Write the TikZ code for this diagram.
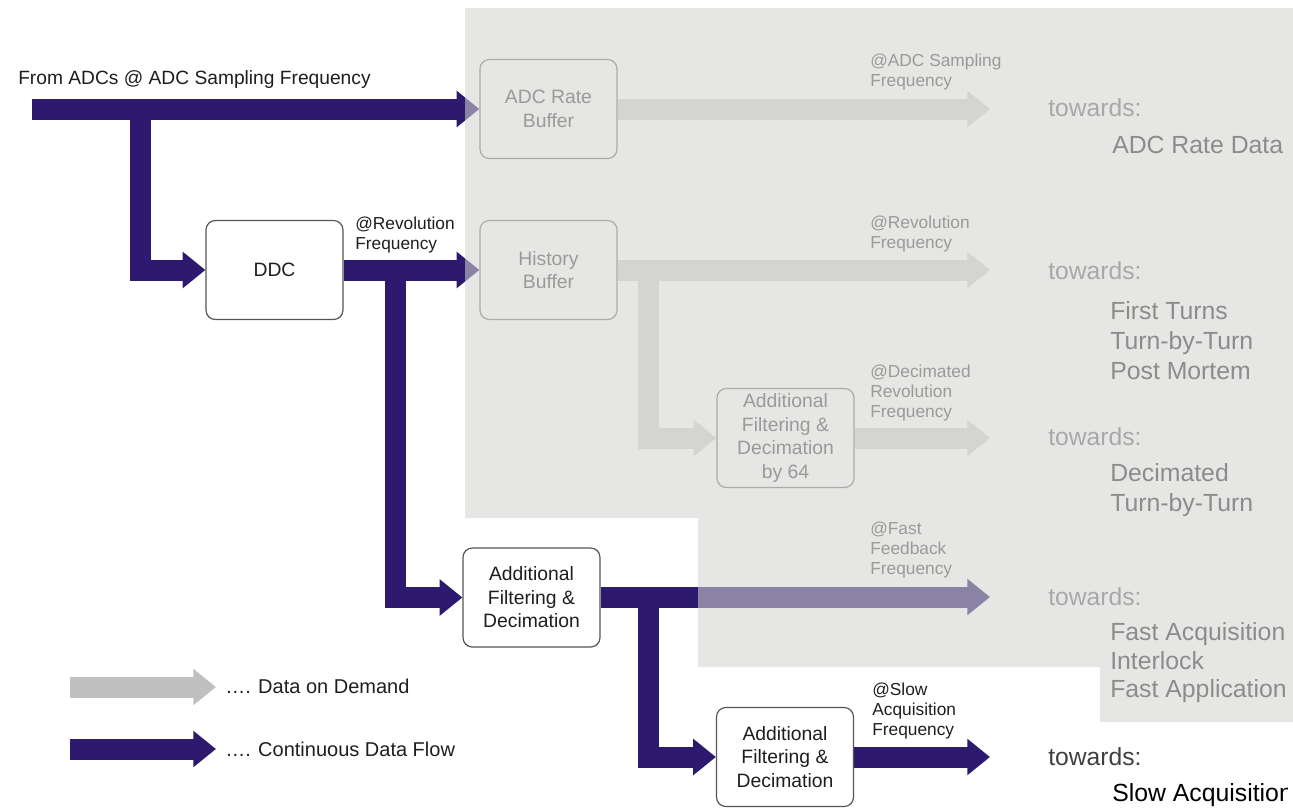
\documentclass[tikz,border=0pt]{standalone}
\usepackage{fontspec}
\setmainfont{Liberation Sans}
\usetikzlibrary{arrows.meta}
\definecolor{purp}{HTML}{2D1A6E}
\definecolor{ovl}{HTML}{D3D3CF}
\definecolor{garrow}{HTML}{D4D4D1}
\definecolor{legray}{HTML}{C0C0C0}
\definecolor{gborder}{HTML}{ABABAB}
\definecolor{gtext}{HTML}{9A9A9A}
\definecolor{gitem}{HTML}{8C8C8C}
\definecolor{gtow}{HTML}{A8A8A8}
\definecolor{dtext}{HTML}{1E1E1E}
\definecolor{dborder}{HTML}{555555}
\pgfdeclarelayer{bg}
\pgfdeclarelayer{ovlayer}
\pgfsetlayers{bg,ovlayer,main}
\begin{document}
\begin{tikzpicture}[x=0.75pt,y=-0.75pt,
  flow/.style={draw=purp, line width=15.75pt, line join=miter, -{Triangle[width=26.25pt,length=17pt]}},
  flowg/.style={flow, draw=garrow},
  flowl/.style={flow, draw=legray},
  box/.style={draw=dborder, line width=0.9pt, rounded corners=7pt, fill=white, minimum width=102.75pt, minimum height=74.25pt, align=center, text=dtext, font=\fontsize{14.5}{17.6}\selectfont, inner sep=0pt},
  gbox/.style={box, draw=gborder, fill=none, text=gtext},
  lab/.style={anchor=west, align=left, inner sep=0pt, font=\fontsize{13}{15}\selectfont},
  glab/.style={lab, text=gtext},
  dlab/.style={lab, text=dtext},
  tow/.style={anchor=west, inner sep=0pt, font=\fontsize{18.5}{22}\selectfont},
  item/.style={anchor=west, align=left, inner sep=0pt, font=\fontsize{18.6}{22.5}\selectfont},
  maintext/.style={anchor=west, inner sep=0pt, text=dtext, font=\fontsize{14.4}{17}\selectfont}
]
\useasboundingbox (0,0) rectangle (1293,808);
\clip (0,0) rectangle (1293,808);

% gray overlay
\begin{pgfonlayer}{ovlayer}
\fill[ovl, fill opacity=0.57] (465,8) -- (1300,8) -- (1300,722) -- (1100,722) -- (1100,667) -- (698,667) -- (698,518) -- (465,518) -- cycle;
\end{pgfonlayer}

% title
\node[maintext] (title) at (18,80) {From ADCs @ ADC Sampling Frequency};

% coordinates
\coordinate (in) at (32,109);
\coordinate (j1) at (140,109);
\coordinate (j2) at (395,270);
\coordinate (j3) at (648,597);
\coordinate (j4) at (648,270);
\coordinate (e1) at (990,109);
\coordinate (e2) at (990,270);
\coordinate (e3) at (990,438);
\coordinate (e4) at (990,597);
\coordinate (e5) at (990,757);

% boxes
\node[box] (ddc) at (274.5,270) {DDC};
\node[box] (afd) at (531.5,597.5) {Additional\\Filtering \&\\Decimation};
\node[box] (afd2) at (785,757) {Additional\\Filtering \&\\Decimation};
\node[gbox] (adcbuf) at (548.5,109) {ADC Rate\\Buffer};
\node[gbox] (hist) at (548.5,270) {History\\Buffer};
\node[gbox] (afd64) at (785.5,438) {Additional\\Filtering \&\\Decimation\\by 64};

% continuous flows (under the overlay)
\begin{pgfonlayer}{bg}
\draw[flow] (in) -- (adcbuf.west);
\draw[flow] (j1) |- (ddc.west);
\draw[flow] (ddc.east) -- (hist.west);
\draw[flow] (j2) |- (afd.west);
\draw[flow] (afd.east |- e4) -- (e4);
\draw[flow] (j3) |- (afd2.west);
\draw[flow] (afd2.east) -- (e5);
\end{pgfonlayer}

% data on demand flows
\draw[flowg] (adcbuf.east) -- (e1);
\draw[flowg] (hist.east) -- (e2);
\draw[flowg] (j4) |- (afd64.west);
\draw[flowg] (afd64.east |- e3) -- (e3);

% frequency labels
\node[dlab] (l2) at (355,235) {@Revolution\\Frequency};
\node[glab] (g1) at (870,72) {@ADC Sampling\\Frequency};
\node[glab] (g2) at (870,234) {@Revolution\\Frequency};
\node[glab] (g3) at (870,393) {@Decimated\\Revolution\\Frequency};
\node[glab] (g4) at (870,550) {@Fast\\Feedback\\Frequency};
\node[dlab] (l5) at (872,711) {@Slow\\Acquisition\\Frequency};

% destinations
\node[tow, text=gtow] (t1) at (1048,108) {towards:};
\node[item, text=gitem] (i1) at (1112,145) {ADC Rate Data};
\node[tow, text=gtow] (t2) at (1048,271) {towards:};
\node[item, text=gitem] (i2) at (1110,341) {First Turns\\Turn-by-Turn\\Post Mortem};
\node[tow, text=gtow] (t3) at (1048,437) {towards:};
\node[item, text=gitem] (i3) at (1110,490) {Decimated\\Turn-by-Turn};
\node[tow, text=gtow] (t4) at (1048,597) {towards:};
\node[tow, text=dtext!85] (t5) at (1048,757) {towards:};
\begin{scope}
\clip (1000,600) rectangle (1287,808);
\node[item, text=gitem, font=\fontsize{18.6}{21.4}\selectfont] (i4) at (1110,663) {Fast Acquisition\\Interlock\\Fast Application};
\node[item, text=black] (i5) at (1112,795) {Slow Acquisition};
\end{scope}

% legend
\coordinate (lg1) at (70,687);
\coordinate (lg2) at (216,687);
\coordinate (lc1) at (70,749);
\coordinate (lc2) at (216,749);
\draw[flowl] (lg1) -- (lg2);
\draw[flow] (lc1) -- (lc2);
\node[maintext, font=\fontsize{15}{17}\selectfont] (leg1) at (225,686) {…. Data on Demand};
\node[maintext, font=\fontsize{15}{17}\selectfont] (leg2) at (225,749) {…. Continuous Data Flow};
\end{tikzpicture}
\end{document}
